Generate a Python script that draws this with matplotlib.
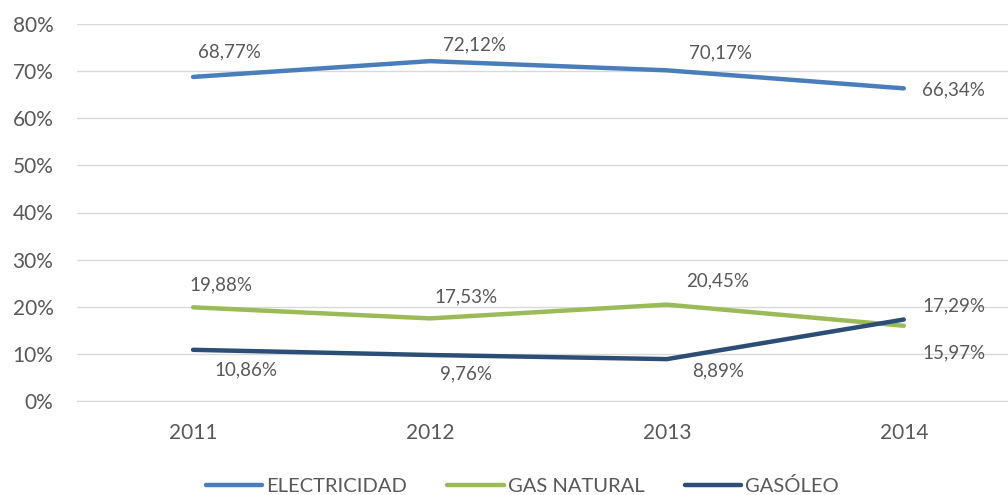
import matplotlib
matplotlib.use("Agg")
import matplotlib.pyplot as plt

years = ["2011", "2012", "2013", "2014"]
electricidad = [68.77, 72.12, 70.17, 66.34]
gas_natural = [19.88, 17.53, 20.45, 15.97]
gasoleo = [10.86, 9.76, 8.89, 17.29]
yticks = [0, 10, 20, 30, 40, 50, 60, 70, 80]

plt.rcParams["font.family"] = ["Lato", "DejaVu Sans"]
txt = "#595959"

fig = plt.figure(figsize=(10.08, 4.95), dpi=100)
ax = fig.add_axes([77 / 1008, 1 - 401 / 495, 1 - 77 / 1008, 377 / 495])

x = list(range(len(years)))
series = [
    ("ELECTRICIDAD", electricidad, "#4a7ebb"),
    ("GAS NATURAL", gas_natural, "#9bbb59"),
    ("GASÓLEO", gasoleo, "#2c4d75"),
]
for name, vals, col in series:
    ax.plot(x, vals, color=col, lw=3.2, solid_capstyle="round", label=name)


def fmt(v):
    return f"{v:.2f}".replace(".", ",") + "%"


# label offsets in pixels, as Excel placed them
offsets = [
    [(36, 25), (45, 16), (54, 17), (50, -2)],
    [(28, 22), (36, 22), (51, 24), (50, -27)],
    [(53, -20), (36, -19), (51, -12), (50, 14)],
]
for (name, vals, col), offs in zip(series, offsets):
    for i, v in enumerate(vals):
        ax.annotate(fmt(v), (i, v), xytext=offs[i], textcoords="offset pixels",
                    ha="center", va="center", fontsize=13.5, color=txt)

ax.set_xlim(-0.49, 3.44)
ax.set_ylim(0, 80)
ax.set_yticks(yticks)
ax.set_yticklabels([f"{t}%" for t in yticks])
ax.set_xticks(x)
ax.set_xticklabels(years)
ax.tick_params(length=0, labelsize=15, colors=txt)
ax.tick_params(axis="y", pad=17)
ax.tick_params(axis="x", pad=16)
ax.grid(axis="y", color="#d9d9d9", lw=1)
ax.set_axisbelow(True)
for s in ["top", "right", "left"]:
    ax.spines[s].set_visible(False)
ax.spines["bottom"].set_color("#d9d9d9")

leg = fig.legend(loc="center", bbox_to_anchor=(0.518, 0.018), ncol=3,
                 frameon=False, fontsize=14.5, handlelength=2.8,
                 handletextpad=0.2, columnspacing=2.0)
for t in leg.get_texts():
    t.set_color(txt)

fig.savefig("out.png", dpi=100)
